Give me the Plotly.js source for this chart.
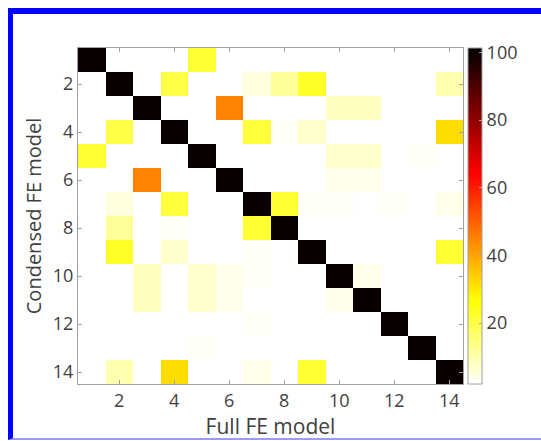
<!DOCTYPE html>
<html>
<head>
<meta charset="utf-8">
<script src="https://cdn.plot.ly/plotly-3.0.1.min.js"></script>
<style>
  html, body { margin: 0; padding: 0; background: #fff; }
  #wrap { position: relative; width: 541px; height: 441px; overflow: hidden; }
  #chart { position: absolute; left: 0; top: 0; width: 541px; height: 441px; }
  #frame { position: absolute; left: 8px; top: 8px; width: 560px; height: 424px;
           border-top: 6px solid #0000ff; border-left: 5px solid #0000ff;
           border-bottom: 2px solid #9a9aff; pointer-events: none; }
</style>
</head>
<body>
<div id="wrap">
  <div id="chart"></div>
  <div id="frame"></div>
</div>
<script>
// Mode numbers of the two models
const fullModes = [1, 2, 3, 4, 5, 6, 7, 8, 9, 10, 11, 12, 13, 14];
const condensedModes = [1, 2, 3, 4, 5, 6, 7, 8, 9, 10, 11, 12, 13, 14];
// Diagonal MAC values (%)
const diagValues = [100, 100, 100, 100, 100, 100, 100, 100, 100, 100, 100, 100, 100, 100];
// Off-diagonal MAC values (%) – matrix is symmetric, upper triangle listed
const offRow = [1, 2, 2, 2, 2, 2, 3, 3, 3, 4, 4, 4, 5, 5, 5, 6, 6, 7, 7, 7, 7, 7, 9, 10, 4];
const offCol = [5, 4, 7, 8, 9, 14, 6, 10, 11, 7, 9, 14, 10, 11, 13, 10, 11, 8, 9, 10, 12, 14, 14, 11, 8];
const offVal = [22, 20, 5, 12, 23, 10, 45, 8, 8, 21, 7, 32, 7, 7, 3, 4, 4, 22, 3, 3, 3, 4, 22, 4, 3];
// Colour bar ticks
const cbTicks = [20, 40, 60, 80, 100];
const axisTicks = [2, 4, 6, 8, 10, 12, 14];

// Build matrix
const n = fullModes.length;
const z = [];
for (let i = 0; i < n; i++) { z.push(new Array(n).fill(0)); z[i][i] = diagValues[i]; }
for (let k = 0; k < offRow.length; k++) {
  const r = offRow[k] - 1, c = offCol[k] - 1;
  z[r][c] = offVal[k]; z[c][r] = offVal[k];
}

const textColor = '#404040';
const lineColor = '#a0a0a0';
const fontFam = '"Open Sans", "Noto Sans", sans-serif';

const trace = {
  type: 'heatmap',
  x: fullModes,
  y: condensedModes,
  z: z,
  zmin: 2,
  zmax: 101.3,
  colorscale: [[0, 'rgb(255,255,255)'], [0.25, 'rgb(255,255,0)'], [0.625, 'rgb(255,0,0)'], [1, 'rgb(0,0,0)']],
  xgap: 0, ygap: 0,
  hoverinfo: 'x+y+z',
  colorbar: {
    x: 1.013, xanchor: 'left', xpad: 0,
    y: 0.5, yanchor: 'middle', ypad: 0,
    len: 1, lenmode: 'fraction',
    thickness: 14, thicknessmode: 'pixels',
    outlinecolor: lineColor, outlinewidth: 1,
    tickvals: cbTicks,
    ticks: 'inside', ticklen: 3, tickcolor: lineColor,
    tickfont: { family: fontFam, size: 18, color: textColor }
  }
};

const layout = {
  width: 541, height: 441,
  margin: { l: 78, r: 78, t: 48, b: 57, pad: 0 },
  paper_bgcolor: '#ffffff',
  plot_bgcolor: '#ffffff',
  font: { family: fontFam, color: textColor },
  xaxis: {
    range: [0.5, 14.5],
    tickvals: axisTicks,
    ticks: 'inside', ticklen: 4, tickcolor: lineColor,
    showline: true, linecolor: lineColor, linewidth: 1, mirror: 'ticks',
    showgrid: false, zeroline: false,
    tickfont: { family: fontFam, size: 18, color: textColor },
    title: { text: 'Full FE model', font: { family: fontFam, size: 21, color: textColor }, standoff: 5 }
  },
  yaxis: {
    range: [14.5, 0.5],
    tickvals: axisTicks,
    ticks: 'inside', ticklen: 4, tickcolor: lineColor,
    showline: true, linecolor: lineColor, linewidth: 1, mirror: 'ticks',
    showgrid: false, zeroline: false,
    tickfont: { family: fontFam, size: 18, color: textColor },
    title: { text: 'Condensed FE model', font: { family: fontFam, size: 20, color: textColor }, standoff: 5 }
  }
};

Plotly.newPlot('chart', [trace], layout, { displayModeBar: false, staticPlot: true });
</script>
</body>
</html>
